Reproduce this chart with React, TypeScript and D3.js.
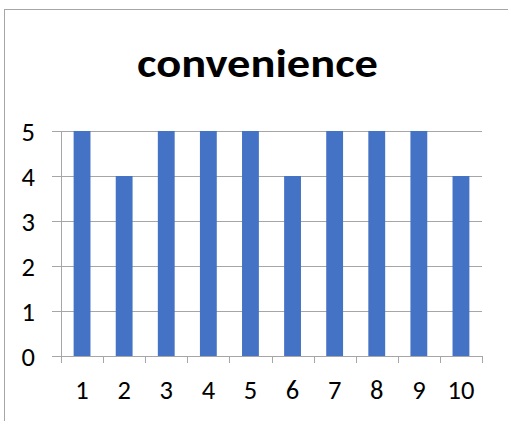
import React from "react";
import * as d3 from "d3";

const categories = ["1", "2", "3", "4", "5", "6", "7", "8", "9", "10"];
const values = [5, 4, 5, 5, 5, 4, 5, 5, 5, 4];
const yTicks = [0, 1, 2, 3, 4, 5];
const title = "convenience";

export default function App() {
  const W = 508, H = 421;
  const left = 61, right = 482, top = 131, bottom = 356;
  const x = d3.scaleBand<string>().domain(categories).range([left, right]).paddingInner(0.6).paddingOuter(0.3);
  const band = d3.scaleBand<string>().domain(categories).range([left, right]);
  const y = d3.scaleLinear().domain([0, 5]).range([bottom, top]);
  const font = "Carlito, Calibri, 'Open Sans', 'Liberation Sans', sans-serif";
  return (
    <svg width={W} height={H} style={{ position: "fixed", left: 0, top: 0, background: "#fff" }}>
      <rect x={0} y={0} width={W} height={H} fill="#fff" />
      <line x1={4.5} x2={4.5} y1={9} y2={H} stroke="#a6a6a6" strokeWidth={1} />
      <line x1={4} x2={W} y1={9.5} y2={9.5} stroke="#a6a6a6" strokeWidth={1} />
      <text x={257.5} y={77} textAnchor="middle" fontFamily={font} fontWeight="bold" fontSize={40}
        textLength={241} lengthAdjust="spacingAndGlyphs" fill="#000">{title}</text>
      {yTicks.map((t) => (
        <g key={t}>
          <line x1={52} x2={right} y1={Math.round(y(t)) + 0.5} y2={Math.round(y(t)) + 0.5} stroke="#a6a6a6" strokeWidth={1} />
          <text x={35} y={y(t) + 9.5} textAnchor="end" fontFamily={font} fontSize={26.5} fill="#000">{t}</text>
        </g>
      ))}
      {values.map((v, i) => (
        <rect key={i} x={x(categories[i])!} y={y(v)} width={x.bandwidth()} height={y(0) - y(v)} fill="#4472C4" />
      ))}
      <line x1={left + 0.5} x2={left + 0.5} y1={top} y2={bottom} stroke="#a6a6a6" strokeWidth={1} />
      <line x1={left} x2={right} y1={bottom + 0.5} y2={bottom + 0.5} stroke="#a6a6a6" strokeWidth={1} />
      {[...categories.map((c) => band(c)!), right].map((px, i) => (
        <line key={i} x1={Math.round(px) + 0.5} x2={Math.round(px) + 0.5} y1={bottom} y2={bottom + 7} stroke="#a6a6a6" strokeWidth={1} />
      ))}
      {categories.map((c) => (
        <text key={c} x={band(c)! + band.bandwidth() / 2} y={399} textAnchor="middle" fontFamily={font} fontSize={26.5} fill="#000">{c}</text>
      ))}
    </svg>
  );
}
